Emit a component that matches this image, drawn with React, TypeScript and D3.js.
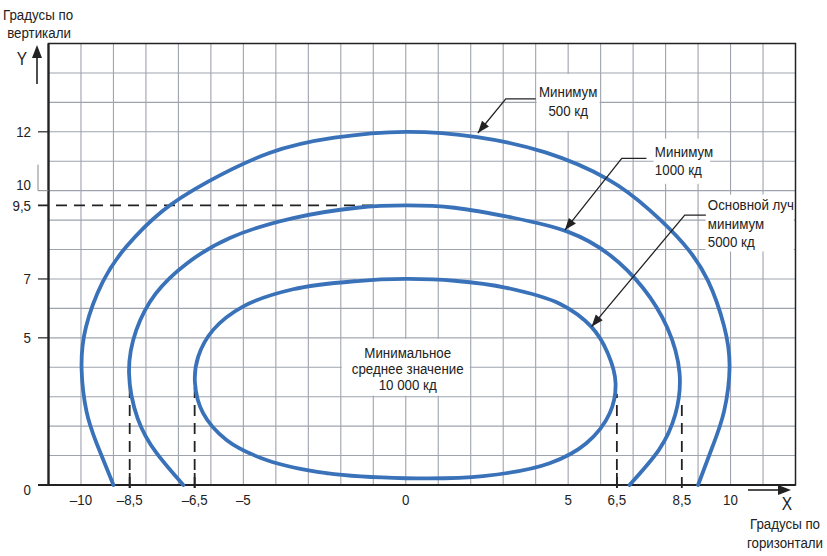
import React, { useRef, useEffect } from "react"
import * as d3 from "d3"

type Pt = [number, number]

// isolines: [horizontal deg, vertical deg]
const curve500: Pt[] = [
  [-9.0, 0.0], [-9.52, 1.42], [-9.83, 2.5], [-9.98, 3.9], [-9.85, 5.35], [-9.33, 6.9],
  [-8.6, 8.1], [-7.5, 9.3], [-6.1, 10.3], [-4.2, 11.28], [-2.2, 11.8], [0, 12.0],
  [2.2, 11.82], [4.3, 11.3], [6.2, 10.4], [7.5, 9.35], [8.55, 8.2], [9.3, 6.95],
  [9.8, 5.4], [9.97, 4.0], [9.8, 2.5], [9.46, 1.35], [9.0, 0.0],
]
const curve1000: Pt[] = [
  [-6.85, 0.0], [-7.67, 1.08], [-8.25, 2.25], [-8.52, 3.8], [-8.3, 5.25], [-7.7, 6.5],
  [-6.75, 7.52], [-5.4, 8.4], [-3.5, 9.06], [-1.5, 9.42], [0, 9.5], [1.5, 9.42],
  [3.3, 9.08], [5.0, 8.6], [6.3, 7.8], [7.3, 6.7], [8.05, 5.35], [8.43, 3.8],
  [8.3, 2.4], [7.8, 1.2], [6.89, 0.0],
]
const curve5000: Pt[] = [
  [0, 0.23], [-2.44, 0.4], [-4.29, 0.85], [-5.52, 1.53], [-6.24, 2.44], [-6.49, 3.46],
  [-6.39, 4.36], [-5.93, 5.27], [-5.0, 6.07], [-3.47, 6.65], [-1.5, 6.93], [0, 7.0],
  [1.5, 6.94], [3.1, 6.7], [4.74, 6.16], [5.71, 5.38], [6.22, 4.48], [6.46, 3.46],
  [6.28, 2.44], [5.56, 1.42], [4.43, 0.74], [2.38, 0.3],
]

const xTickValues = [-10, -8.5, -6.5, -5, 0, 5, 6.5, 8.5, 10]
const xTickLabels = ["–10", "–8,5", "–6,5", "–5", "0", "5", "6,5", "8,5", "10"]
const yTickValues = [0, 5, 7, 9.5, 10, 12]
const yTickLabels = ["0", "5", "7", "9,5", "10", "12"]

// dashed reference lines
const dropX = [-8.5, -6.5, 6.5, 8.5]
const dropTop = [3.8, 3.5, 3.1, 2.9]
const levelY = 9.5
const levelEndX = -1

const noteLines = [
  ["Минимум", "500 кд"],
  ["Минимум", "1000 кд"],
  ["Основной луч", "минимум", "5000 кд"],
]
const centerLines = ["Минимальное", "среднее значение", "10 000 кд"]

const FONT = "'Liberation Sans Narrow', 'Arial Narrow', 'Liberation Sans', Arial, sans-serif"
const BLUE = "#3a72b9"
const GRID = "#9ea3ae"
const INK = "#222"
const SQUEEZE = 0.86

const width = 827
const height = 556

const IsoluxChart: React.FC = () => {
  const svgRef = useRef<SVGSVGElement | null>(null)

  useEffect(() => {
    const svg = d3.select(svgRef.current)
    svg.selectAll("*").remove()
    svg.attr("viewBox", [0, 0, width, height])

    // narrow the sans font around its anchor
    const squeeze = (ax: number) => `translate(${ax},0) scale(${SQUEEZE},1) translate(${-ax},0)`

    // SCALES
    const x = d3.scaleLinear().domain([-11, 12]).range([48.5, 795.5])
    const y = d3.scaleLinear().domain([0, 15]).range([485, 43.5])

    // GRID
    const grid = svg.append("g").attr("stroke", GRID).attr("stroke-width", 1.1)
    grid.selectAll("line.v").data(d3.range(-10, 12)).enter().append("line")
      .attr("x1", d => x(d)).attr("x2", d => x(d))
      .attr("y1", y(0)).attr("y2", y(15))
    grid.selectAll("line.h").data(d3.range(1, 15)).enter().append("line")
      .attr("y1", d => y(d)).attr("y2", d => y(d))
      .attr("x1", x(-11)).attr("x2", x(12))

    // FRAME
    svg.append("rect")
      .attr("x", x(-11)).attr("y", y(15))
      .attr("width", x(12) - x(-11)).attr("height", y(0) - y(15))
      .attr("fill", "none").attr("stroke", INK).attr("stroke-width", 1.5)
    svg.append("line").attr("x1", x(-11)).attr("x2", x(-11)).attr("y1", y(15)).attr("y2", y(0))
      .attr("stroke", INK).attr("stroke-width", 2.2)
    svg.append("line").attr("x1", 38).attr("x2", x(12)).attr("y1", y(0)).attr("y2", y(0))
      .attr("stroke", INK).attr("stroke-width", 2.2)

    // white boxes behind texts
    const boxes: [number, number, number, number][] = [
      [-2, 2, 3, 5], [4, 6, 12, 14], [7.6, 9.4, 10.2, 11.8], [9.2, 11.98, 7.9, 9.9],
    ]
    svg.append("g").selectAll("rect").data(boxes).enter().append("rect")
      .attr("x", d => x(d[0]) + 1).attr("y", d => y(d[3]) + 1)
      .attr("width", d => x(d[1]) - x(d[0]) - 2).attr("height", d => y(d[2]) - y(d[3]) - 2)
      .attr("fill", "white")

    // DASHED REFERENCES
    const dash = svg.append("g").attr("stroke", INK).attr("stroke-width", 1.8)
      .attr("stroke-dasharray", "11 7")
    dash.append("line").attr("x1", 38).attr("x2", x(levelEndX))
      .attr("y1", y(levelY)).attr("y2", y(levelY))
    dash.selectAll("line.d").data(dropX).enter().append("line")
      .attr("x1", d => x(d)).attr("x2", d => x(d))
      .attr("y1", y(0) + 3).attr("y2", (_d, i) => y(dropTop[i]))

    // CURVES
    const line = d3.line<Pt>().x(d => x(d[0])).y(d => y(d[1])).curve(d3.curveNatural)
    const closed = d3.line<Pt>().x(d => x(d[0])).y(d => y(d[1])).curve(d3.curveCatmullRomClosed.alpha(0.5))
    const curves = svg.append("g").attr("fill", "none").attr("stroke", BLUE)
      .attr("stroke-width", 3.8).attr("stroke-linecap", "round")
    curves.append("path").attr("d", line(curve500))
    curves.append("path").attr("d", line(curve1000))
    curves.append("path").attr("d", closed(curve5000))

    // AXIS TICKS AND LABELS
    const yAxis = svg.append("g").attr("font-family", FONT).attr("font-size", 15.5).attr("fill", INK)
    yTickValues.forEach((v, i) => {
      const off = v === 0 ? 5 : v === 10 ? -6 : 0
      yAxis.append("text").attr("x", 31).attr("y", y(v) + off)
        .attr("transform", squeeze(31))
        .attr("text-anchor", "end").attr("dominant-baseline", "central").text(yTickLabels[i])
      if (v !== 9.5 && v !== 10 && v !== 0) {
        yAxis.append("line").attr("x1", 38).attr("x2", x(-11)).attr("y1", y(v)).attr("y2", y(v))
          .attr("stroke", INK).attr("stroke-width", 1.2)
      }
    })
    // bracket next to "10"
    yAxis.append("path")
      .attr("d", `M38,${y(10) - 26}V${y(10)}H${x(-11)}`)
      .attr("fill", "none").attr("stroke", "#888").attr("stroke-width", 1)

    const xAxis = svg.append("g").attr("font-family", FONT).attr("font-size", 15.5).attr("fill", INK)
    xTickValues.forEach((v, i) => {
      xAxis.append("text").attr("x", x(v)).attr("y", y(0) + 15)
        .attr("transform", squeeze(x(v)))
        .attr("text-anchor", "middle").attr("dominant-baseline", "central").text(xTickLabels[i])
    })
    dropX.slice(0, 3).forEach(v => {
      xAxis.append("line").attr("x1", x(v)).attr("x2", x(v)).attr("y1", y(0) - 12).attr("y2", y(0) + 3)
        .attr("stroke", INK).attr("stroke-width", 1.8)
    })

    // ARROWS
    const arrowHead = (tip: Pt, from: Pt, len: number, half: number) => {
      const dx = tip[0] - from[0], dy = tip[1] - from[1]
      const d = Math.hypot(dx, dy)
      const ux = dx / d, uy = dy / d
      const bx = tip[0] - ux * len, by = tip[1] - uy * len
      return `M${tip[0]},${tip[1]}L${bx - uy * half},${by + ux * half}L${bx + uy * half},${by - ux * half}Z`
    }
    const ink = svg.append("g")
    // Y axis arrow
    ink.append("line").attr("x1", 37).attr("x2", 37).attr("y1", 84).attr("y2", 55)
      .attr("stroke", INK).attr("stroke-width", 1.6)
    ink.append("path").attr("d", arrowHead([37, 45], [37, 84], 13, 5)).attr("fill", INK)
    // X axis arrow
    ink.append("line").attr("x1", 748).attr("x2", 780).attr("y1", 490).attr("y2", 490)
      .attr("stroke", INK).attr("stroke-width", 1.6)
    ink.append("path").attr("d", arrowHead([791, 490], [748, 490], 13, 5)).attr("fill", INK)

    const lab = svg.append("g").attr("font-family", FONT).attr("font-size", 15.5).attr("fill", INK)
      .attr("text-anchor", "middle").attr("dominant-baseline", "central")
    const axisText: [number, number, string, number][] = [
      [38, 15, "Градусы по", 15.5], [39, 33, "вертикали", 15.5], [22, 59, "Y", 18],
      [787, 504, "X", 18], [785, 524, "Градусы по", 15.5], [785, 543, "горизонтали", 15.5],
    ]
    axisText.forEach(([tx, ty, s, fs]) => {
      lab.append("text").attr("x", tx).attr("y", ty).attr("font-size", fs)
        .attr("transform", squeeze(tx)).text(s)
    })

    // ANNOTATIONS (leader: tip on curve, elbow, end of shelf, text position)
    const leaders = [
      { tip: [2.22, 11.96], elbow: [3.08, 13.12], end: 4.0, tx: 5.0, ty: 13.36, anchor: "middle" },
      { tip: [4.9, 8.66], elbow: [6.65, 11.1], end: 7.41, tx: 7.67, ty: 11.33, anchor: "start" },
      { tip: [5.72, 5.38], elbow: [8.59, 9.17], end: 9.24, tx: 9.3, ty: 9.51, anchor: "start" },
    ]
    leaders.forEach((l, i) => {
      const tip: Pt = [x(l.tip[0]), y(l.tip[1])]
      const elbow: Pt = [x(l.elbow[0]), y(l.elbow[1])]
      ink.append("path")
        .attr("d", `M${x(l.end)},${elbow[1]}H${elbow[0]}L${tip[0]},${tip[1]}`)
        .attr("fill", "none").attr("stroke", INK).attr("stroke-width", 1.3)
      ink.append("path").attr("d", arrowHead(tip, elbow, 12, 4.5)).attr("fill", INK)
      const t = svg.append("text").attr("font-family", FONT).attr("font-size", 15.5).attr("fill", INK)
        .attr("text-anchor", l.anchor).attr("transform", squeeze(x(l.tx)))
      noteLines[i].forEach((s, j) => {
        t.append("tspan").attr("x", x(l.tx)).attr("y", y(l.ty) + j * 18.5)
          .attr("dominant-baseline", "central").text(s)
      })
    })

    const c = svg.append("text").attr("font-family", FONT).attr("font-size", 15.5).attr("fill", INK)
      .attr("text-anchor", "middle").attr("transform", squeeze(x(0.06)))
    centerLines.forEach((s, j) => {
      c.append("tspan").attr("x", x(0.06)).attr("y", y(4.5) + j * 16.3)
        .attr("dominant-baseline", "central").text(s)
    })
  }, [])

  return (
    <svg ref={svgRef} width={width} height={height}
      style={{ position: "absolute", left: 0, top: 0, background: "white" }}></svg>
  )
}

export default function App() {
  return <IsoluxChart />
}
